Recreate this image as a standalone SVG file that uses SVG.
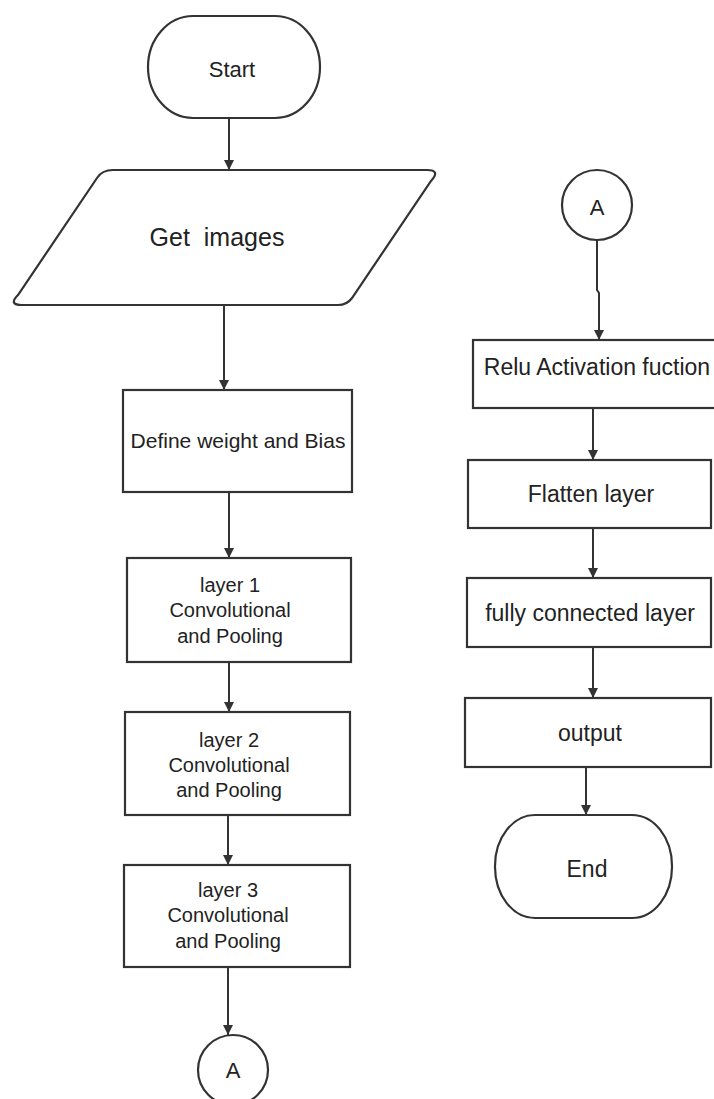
<svg xmlns="http://www.w3.org/2000/svg" width="714" height="1099" viewBox="0 0 714 1099">
<style>
.s{fill:#fff;stroke:#333;stroke-width:2.2}
.t{font-family:"Liberation Sans",Arial,sans-serif;fill:#222;text-anchor:middle;dominant-baseline:central}
.l{font-size:20px}
.r{font-size:23px}
.c{fill:none;stroke:#333;stroke-width:2;marker-end:url(#ah)}
</style>
<defs>
<marker id="ah" viewBox="0 0 10 10" refX="10" refY="5" markerWidth="10" markerHeight="10" markerUnits="userSpaceOnUse" orient="auto">
<path d="M0,0 L10,5 L0,10 z" fill="#333"/>
</marker>
</defs>
<rect width="714" height="1099" fill="#fff"/>
<g id="connectors">
<path class="c" d="M229,118 V170"/>
<path class="c" d="M224,305 V390"/>
<path class="c" d="M229,492 V558"/>
<path class="c" d="M229,662 V712"/>
<path class="c" d="M228,815 V865"/>
<path class="c" d="M228,967 V1035"/>
<path class="c" d="M597,241 V290 L599,293 V340"/>
<path class="c" d="M593,408 V460"/>
<path class="c" d="M593,528 V578"/>
<path class="c" d="M593,647 V698"/>
<path class="c" d="M586,767 V815"/>
</g>
<g id="start">
<rect class="s" x="148" y="16" width="172" height="102" rx="45" ry="51"/>
<text class="t" x="232" y="69" style="font-size:22px">Start</text>
</g>
<g id="get-images">
<path class="s" d="M113,170 L427,170 Q441,170 431,181 L352,298 Q347,305 338,305 L22,305 Q8,305 18,295 L97,178 Q102,170 113,170 Z"/>
<text class="t" x="217" y="237" style="font-size:25px">Get&#160; images</text>
</g>
<g id="define">
<rect class="s" x="123" y="390" width="229" height="102"/>
<text class="t" x="238" y="440" style="font-size:21px">Define weight and Bias</text>
</g>
<g id="layer1">
<rect class="s" x="127" y="558" width="224" height="104"/>
<text class="t l" x="230" y="585">layer 1</text>
<text class="t l" x="230" y="610">Convolutional</text>
<text class="t l" x="230" y="636">and Pooling</text>
</g>
<g id="layer2">
<rect class="s" x="125" y="712" width="225" height="103"/>
<text class="t l" x="229" y="740">layer 2</text>
<text class="t l" x="229" y="765">Convolutional</text>
<text class="t l" x="229" y="790">and Pooling</text>
</g>
<g id="layer3">
<rect class="s" x="124" y="865" width="226" height="102"/>
<text class="t l" x="228" y="890">layer 3</text>
<text class="t l" x="228" y="915">Convolutional</text>
<text class="t l" x="228" y="941">and Pooling</text>
</g>
<g id="connector-a-out">
<circle class="s" cx="233" cy="1070" r="35"/>
<text class="t" x="233" y="1070" style="font-size:22px">A</text>
</g>
<g id="connector-a-in">
<circle class="s" cx="597" cy="205" r="35"/>
<text class="t" x="597" y="207" style="font-size:22px">A</text>
</g>
<g id="relu">
<rect class="s" x="473" y="340" width="245" height="68"/>
<text class="t r" x="597" y="367">Relu Activation fuction</text>
</g>
<g id="flatten">
<rect class="s" x="468" y="460" width="243" height="68"/>
<text class="t r" x="591" y="494">Flatten layer</text>
</g>
<g id="fully-connected">
<rect class="s" x="467" y="578" width="244" height="69"/>
<text class="t r" x="590" y="613">fully connected layer</text>
</g>
<g id="output">
<rect class="s" x="465" y="698" width="246" height="69"/>
<text class="t r" x="590" y="733">output</text>
</g>
<g id="end">
<rect class="s" x="495" y="815" width="177" height="103" rx="40" ry="51"/>
<text class="t r" x="587" y="869">End</text>
</g>
</svg>
